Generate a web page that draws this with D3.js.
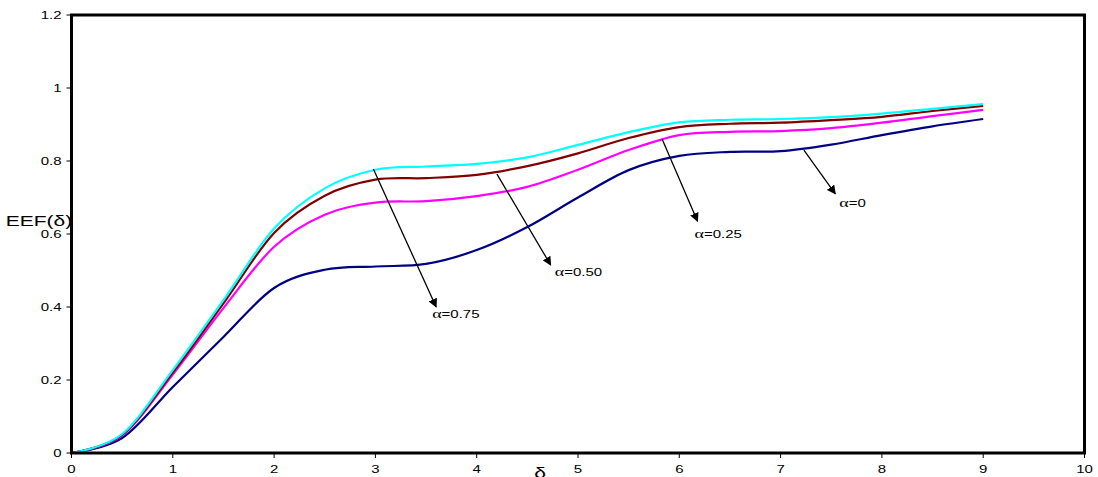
<!DOCTYPE html>
<html><head><meta charset="utf-8">
<script src="https://cdn.jsdelivr.net/npm/d3@7"></script>
<style>body{margin:0;background:#fff}svg{display:block}</style>
</head><body>
<svg id="c" width="1098" height="477"></svg>
<script>
const xValues = [0,0.5,1,1.5,2,2.5,3,3.5,4,4.5,5,5.5,6,6.5,7,7.5,8,8.5,9];
const alpha075 = [0,0.052,0.227,0.419,0.615,0.725,0.776,0.785,0.792,0.81,0.844,0.879,0.906,0.913,0.915,0.92,0.93,0.943,0.956];
const alpha050 = [0,0.05,0.22,0.41,0.603,0.705,0.749,0.753,0.762,0.786,0.821,0.863,0.893,0.902,0.905,0.912,0.921,0.937,0.951];
const alpha025 = [0,0.048,0.215,0.397,0.565,0.653,0.686,0.69,0.704,0.729,0.776,0.83,0.871,0.88,0.882,0.89,0.905,0.923,0.94];
const alpha000 = [0,0.041,0.181,0.318,0.452,0.502,0.511,0.518,0.556,0.619,0.70,0.775,0.814,0.825,0.827,0.845,0.871,0.895,0.915];
const seriesNames = ["α=0","α=0.25","α=0.50","α=0.75"];
const seriesColors = ["#000080","#FF00FF","#800000","#00FFFF"];
const xTicks = [0,1,2,3,4,5,6,7,8,9,10];
const yTicks = [0,0.2,0.4,0.6,0.8,1,1.2];
const annotations = [
  {label:"α=0.75", from:[2.98,0.778], to:[3.6,0.40], text:[3.56,0.37]},
  {label:"α=0.50", from:[4.2,0.764], to:[4.73,0.515], text:[4.77,0.485]},
  {label:"α=0.25", from:[5.83,0.86], to:[6.18,0.635], text:[6.15,0.59]},
  {label:"α=0", from:[7.23,0.83], to:[7.54,0.71], text:[7.58,0.675]}
];

const svg = d3.select("#c");
const L = 71.5, R = 1084.5, T = 15, B = 453;
const x = d3.scaleLinear().domain([0,10]).range([L,R]);
const y = d3.scaleLinear().domain([0,1.2]).range([B,T]);
const SX = 1.5;
const FONT = "'Liberation Sans', Arial, sans-serif";

function stext(g, px, py, size, anchor){
  return g.append("text")
    .attr("transform", `translate(${px},${py}) scale(${SX},1)`)
    .attr("font-family", FONT).attr("font-size", size)
    .attr("text-anchor", anchor).attr("fill","#000");
}

const data = [alpha000, alpha025, alpha050, alpha075];
const line = d3.line().x((d,i)=>x(xValues[i])).y(d=>y(d)).curve(d3.curveCatmullRom.alpha(0));
data.forEach((s,k)=>{
  svg.append("path").datum(s).attr("d", line).attr("fill","none")
    .attr("stroke", seriesColors[k]).attr("stroke-width", 2.2);
});

svg.append("rect").attr("x",L).attr("y",T).attr("width",R-L).attr("height",B-T)
  .attr("fill","none").attr("stroke","#000").attr("stroke-width",3);

const ga = svg.append("g");
yTicks.forEach(v=>{
  ga.append("line").attr("x1",L-5).attr("x2",L).attr("y1",y(v)).attr("y2",y(v)).attr("stroke","#000").attr("stroke-width",1);
  stext(ga, L-10, y(v)+3.6, 10, "end").text(String(v));
});
xTicks.forEach(v=>{
  ga.append("line").attr("x1",x(v)).attr("x2",x(v)).attr("y1",B).attr("y2",B+5).attr("stroke","#000").attr("stroke-width",1);
  stext(ga, x(v), 473, 10, "middle").text(String(v));
});

stext(svg, 39, 226, 14, "middle").text("EEF(δ)");
stext(svg, 540, 478, 14, "middle").text("δ");

const defs = svg.append("defs");
defs.append("marker").attr("id","ah").attr("viewBox","0 0 10 10").attr("refX",9).attr("refY",5)
  .attr("markerWidth",9).attr("markerHeight",9).attr("markerUnits","userSpaceOnUse").attr("orient","auto")
  .append("path").attr("d","M0,0 L10,5 L0,10 Z").attr("fill","#000");
annotations.forEach(a=>{
  svg.append("line").attr("x1",x(a.from[0])).attr("y1",y(a.from[1]))
    .attr("x2",x(a.to[0])).attr("y2",y(a.to[1]))
    .attr("stroke","#000").attr("stroke-width",1.3).attr("marker-end","url(#ah)");
  const t = stext(svg, x(a.text[0]), y(a.text[1]), 10, "start");
  t.append("tspan").attr("font-family","'Liberation Serif', serif").attr("font-size",12).text(a.label.slice(0,1));
  t.append("tspan").text(a.label.slice(1));
});
</script>
</body></html>
